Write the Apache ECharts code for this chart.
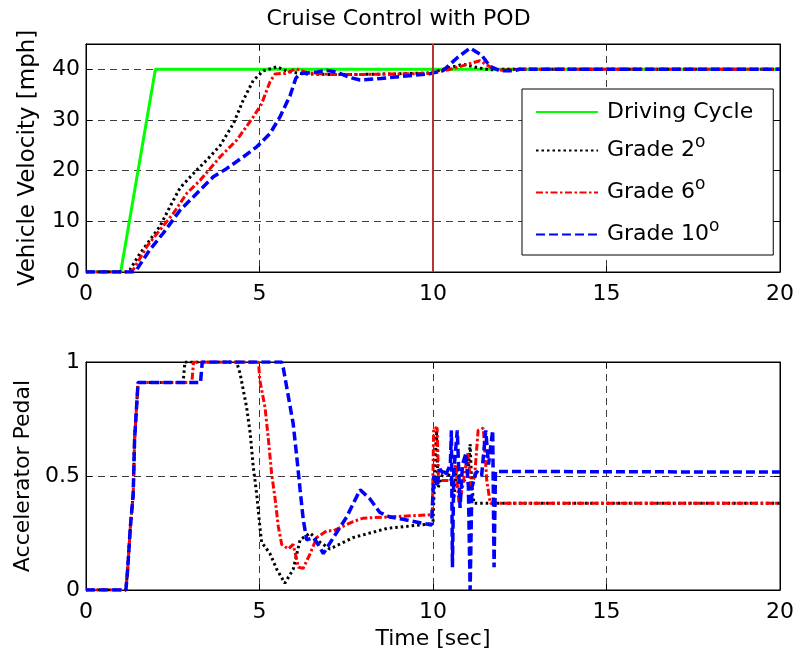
<!DOCTYPE html>
<html>
<head>
<meta charset="utf-8">
<script src="https://cdn.jsdelivr.net/npm/echarts@6/dist/echarts.min.js"></script>
<style>
  html, body { margin: 0; padding: 0; background: #fff; }
  #chart { width: 797px; height: 659px; }
</style>
</head>
<body>
<div id="chart"></div>
<script>
// ---- Vehicle velocity [mph] vs time [sec] ----
const cycleT = [0, 1, 2, 20];
const cycleV = [0, 0, 40, 40];

const g2T = [0, 1.15, 1.27, 1.56, 1.84, 2.13, 2.42, 2.71, 3.09, 3.48, 3.86, 4.25, 4.53, 4.82, 5.11, 5.5, 5.8, 6.26, 7, 8, 9, 9.9, 10.4, 10.87, 11.3, 11.64, 12, 20];
const g2V = [0, 0, 0.5, 3.7, 6.3, 9.0, 12.9, 16.6, 19.4, 22.1, 24.9, 29.3, 33.9, 37.8, 39.7, 40.5, 39.6, 39.1, 39.0, 39.0, 39.1, 39.3, 40.2, 41.0, 40.3, 39.9, 40, 40];

const g6T = [0, 1.25, 1.36, 1.75, 2.13, 2.52, 2.9, 3.29, 3.86, 4.34, 4.82, 5.06, 5.3, 5.45, 5.75, 6.05, 6.4, 7, 8, 9, 9.9, 10.5, 11.0, 11.35, 11.74, 12.0, 12.5, 20];
const g6V = [0, 0, 0.45, 5.0, 8.3, 11.6, 15.5, 18.1, 22.7, 26.0, 30.6, 33.2, 37.5, 39.1, 39.2, 40.1, 39.3, 39.0, 39.0, 39.1, 39.2, 40.0, 41.0, 41.7, 40.1, 39.8, 40, 40];

const g10T = [0, 1.35, 1.46, 1.84, 2.23, 2.71, 3.19, 3.67, 4.05, 4.53, 4.92, 5.3, 5.59, 5.88, 6.05, 6.2, 6.6, 6.94, 7.25, 7.6, 7.9, 8.5, 9.4, 9.9, 10.3, 10.7, 11.07, 11.4, 11.64, 11.93, 12.3, 12.5, 20];
const g10V = [0, 0, 0.45, 4.4, 7.7, 12.2, 15.5, 18.8, 20.4, 22.7, 24.7, 27.3, 30.6, 34.8, 38.3, 39.2, 39.4, 39.8, 39.4, 38.4, 37.9, 38.2, 38.8, 39.1, 39.8, 42.3, 44.2, 42.8, 40.6, 39.7, 39.7, 40, 40];

// ---- Accelerator pedal [0..1] vs time [sec] ----
const p2T = [0, 1.15, 1.2, 1.28, 1.36, 1.4, 1.5, 2.8, 2.85, 4.34, 4.44, 4.63, 4.73, 4.82, 4.92, 5.01, 5.06, 5.3, 5.5, 5.73, 5.97, 6.17, 6.46, 6.74, 7.03, 7.7, 8.67, 9.91, 10.0, 10.05, 10.1, 10.15, 10.3, 10.5, 10.6, 10.68, 10.85, 11.0, 11.07, 11.12, 11.18, 20];
const p2V = [0, 0, 0.09, 0.28, 0.42, 0.66, 0.91, 0.91, 1.0, 1.0, 0.95, 0.8, 0.69, 0.54, 0.42, 0.28, 0.21, 0.16, 0.09, 0.03, 0.09, 0.22, 0.25, 0.21, 0.18, 0.23, 0.27, 0.29, 0.3, 0.5, 0.7, 0.45, 0.52, 0.5, 0.4, 0.54, 0.47, 0.5, 0.64, 0.45, 0.38, 0.38];

const p6T = [0, 1.15, 1.2, 1.28, 1.36, 1.4, 1.5, 3.05, 3.1, 4.97, 5.01, 5.16, 5.25, 5.35, 5.45, 5.54, 5.64, 5.83, 5.97, 6.12, 6.26, 6.46, 6.65, 6.94, 7.13, 7.7, 7.99, 8.67, 9.98, 10.02, 10.12, 10.16, 10.55, 10.65, 10.75, 10.85, 11.0, 11.1, 11.2, 11.3, 11.45, 11.55, 11.65, 20];
const p6V = [0, 0, 0.09, 0.28, 0.42, 0.66, 0.91, 0.91, 1.0, 1.0, 0.92, 0.8, 0.67, 0.51, 0.4, 0.28, 0.2, 0.18, 0.2, 0.1, 0.095, 0.16, 0.23, 0.26, 0.26, 0.3, 0.315, 0.32, 0.33, 0.71, 0.71, 0.48, 0.48, 0.55, 0.38, 0.45, 0.6, 0.45, 0.5, 0.7, 0.71, 0.48, 0.38, 0.38];

const p10T = [0, 1.15, 1.2, 1.28, 1.36, 1.4, 1.5, 3.3, 3.35, 5.64, 5.69, 5.83, 5.97, 6.07, 6.17, 6.26, 6.36, 6.55, 6.65, 6.84, 7.13, 7.51, 7.9, 8.18, 8.47, 8.76, 9.14, 9.96, 10.0, 10.02, 10.1, 10.2, 10.35, 10.5, 10.53, 10.56, 10.6, 10.7, 10.78, 10.85, 10.95, 11.02, 11.07, 11.12, 11.25, 11.4, 11.52, 11.6, 11.72, 11.76, 11.8, 20];
const p10V = [0, 0, 0.09, 0.28, 0.42, 0.66, 0.91, 0.91, 1.0, 1.0, 0.97, 0.85, 0.73, 0.59, 0.44, 0.31, 0.22, 0.23, 0.21, 0.16, 0.23, 0.32, 0.44, 0.4, 0.34, 0.32, 0.31, 0.285, 0.29, 0.5, 0.46, 0.53, 0.5, 0.55, 0.7, 0.1, 0.52, 0.7, 0.36, 0.55, 0.6, 0.45, 0.0, 0.45, 0.52, 0.5, 0.7, 0.55, 0.7, 0.1, 0.52, 0.517];

const seriesNames = ['Driving Cycle', 'Grade 2', 'Grade 6', 'Grade 10'];

const FONT = 'DejaVu Sans';
const zip = (t, v) => t.map((x, i) => [x, v[i]]);

const styles = {
  'Driving Cycle': { color: '#00ff00', width: 3, type: 'solid' },
  'Grade 2': { color: '#000000', width: 3, type: [2.5, 3] },
  'Grade 6': { color: '#ff0000', width: 3, type: [7, 2.5, 2.5, 2.5] },
  'Grade 10': { color: '#0000ff', width: 3.5, type: [9, 4] }
};

function lineSeries(name, data, xi, yi, extra) {
  const s = styles[name];
  return Object.assign({
    name: name,
    type: 'line',
    xAxisIndex: xi,
    yAxisIndex: yi,
    data: data,
    symbol: 'none',
    showSymbol: false,
    color: s.color,
    lineStyle: { color: s.color, width: s.width, type: s.type },
    emphasis: { disabled: true },
    z: 3
  }, extra || {});
}

const gridDash = { color: '#3c3c3c', width: 1, type: [7, 5] };

function mainX(gridIndex, showName) {
  return {
    type: 'value', gridIndex: gridIndex, min: 0, max: 20, interval: 5,
    axisLine: { show: true, onZero: false, lineStyle: { color: '#000', width: 1 } },
    axisTick: { show: true, inside: true, length: 6, lineStyle: { color: '#000' } },
    axisLabel: { color: '#000', fontFamily: FONT, fontSize: 22, margin: 11 },
    splitLine: { show: true, lineStyle: gridDash },
    name: showName ? 'Time [sec]' : '',
    nameLocation: 'middle', nameGap: 38,
    nameTextStyle: { color: '#000', fontFamily: FONT, fontSize: 22 }
  };
}
function topX(gridIndex) {
  return {
    type: 'value', gridIndex: gridIndex, position: 'top', min: 0, max: 20, interval: 5,
    axisLine: { show: true, onZero: false, lineStyle: { color: '#000', width: 1 } },
    axisTick: { show: true, inside: true, length: 6, lineStyle: { color: '#000' } },
    axisLabel: { show: false }, splitLine: { show: false }
  };
}
function rightY(gridIndex, max, interval) {
  return {
    type: 'value', gridIndex: gridIndex, position: 'right', min: 0, max: max, interval: interval,
    axisLine: { show: true, onZero: false, lineStyle: { color: '#000', width: 1 } },
    axisTick: { show: true, inside: true, length: 6, lineStyle: { color: '#000' } },
    axisLabel: { show: false }, splitLine: { show: false }
  };
}

const chart = echarts.init(document.getElementById('chart'), null, { renderer: 'canvas' });

chart.setOption({
  animation: false,
  backgroundColor: '#ffffff',
  title: {
    text: 'Cruise Control with POD',
    left: 'center', top: 3,
    textStyle: { color: '#000', fontFamily: FONT, fontSize: 22, fontWeight: 'normal' }
  },
  grid: [
    { left: 86, top: 44, width: 694, height: 228, show: true, borderColor: '#000', borderWidth: 1, backgroundColor: '#fff' },
    { left: 86, top: 362, width: 694, height: 228, show: true, borderColor: '#000', borderWidth: 1, backgroundColor: '#fff' }
  ],
  legend: {
    data: seriesNames,
    orient: 'vertical',
    left: 522, top: 89,
    itemWidth: 62, itemHeight: 20, itemGap: 9,
    padding: [10, 20, 4, 13],
    borderColor: '#000', borderWidth: 1, backgroundColor: '#fff',
    selectedMode: false,
    itemStyle: { color: 'rgba(0,0,0,0)', borderWidth: 0, opacity: 0 },
    textStyle: {
      color: '#000', fontFamily: FONT, fontSize: 22, lineHeight: 26,
      rich: {
        t: { fontFamily: FONT, fontSize: 22, color: '#000', padding: [0, 0, 0, 4] },
        s: { fontFamily: FONT, fontSize: 17, color: '#000', lineHeight: 10, padding: [0, 0, 16, 0] }
      }
    },
    formatter: function (name) {
      return name.indexOf('Grade') === 0 ? '{t|' + name + '}{s|o}' : '{t|' + name + '}';
    }
  },
  xAxis: [mainX(0, false), topX(0), mainX(1, true), topX(1)],
  yAxis: [
    {
      type: 'value', gridIndex: 0, min: 0, max: 45, interval: 10,
      axisLine: { show: true, onZero: false, lineStyle: { color: '#000', width: 1 } },
      axisTick: { show: true, inside: true, length: 6, lineStyle: { color: '#000' } },
      axisLabel: {
        color: '#000', fontFamily: FONT, fontSize: 22, margin: 6,
        formatter: function (v) { return v % 10 === 0 ? String(v) : ''; }
      },
      splitLine: { show: true, lineStyle: gridDash },
      name: 'Vehicle Velocity [mph]', nameLocation: 'middle', nameGap: 46,
      nameTextStyle: { color: '#000', fontFamily: FONT, fontSize: 23 }
    },
    rightY(0, 45, 10),
    {
      type: 'value', gridIndex: 1, min: 0, max: 1, interval: 0.5,
      axisLine: { show: true, onZero: false, lineStyle: { color: '#000', width: 1 } },
      axisTick: { show: true, inside: true, length: 6, lineStyle: { color: '#000' } },
      axisLabel: { color: '#000', fontFamily: FONT, fontSize: 22, margin: 6 },
      splitLine: { show: true, lineStyle: gridDash },
      name: 'Accelerator Pedal', nameLocation: 'middle', nameGap: 50,
      nameTextStyle: { color: '#000', fontFamily: FONT, fontSize: 22 }
    },
    rightY(1, 1, 0.5)
  ],
  series: [
    lineSeries('Driving Cycle', zip(cycleT, cycleV), 0, 0, {
      markLine: {
        silent: true, symbol: 'none', animation: false,
        label: { show: false },
        lineStyle: { color: '#b83434', width: 2, type: 'solid' },
        emphasis: { disabled: true },
        data: [{ xAxis: 10 }]
      }
    }),
    lineSeries('Grade 2', zip(g2T, g2V), 0, 0),
    lineSeries('Grade 6', zip(g6T, g6V), 0, 0),
    lineSeries('Grade 10', zip(g10T, g10V), 0, 0),
    lineSeries('Grade 2', zip(p2T, p2V), 2, 2),
    lineSeries('Grade 6', zip(p6T, p6V), 2, 2),
    lineSeries('Grade 10', zip(p10T, p10V), 2, 2)
  ]
});
</script>
</body>
</html>
